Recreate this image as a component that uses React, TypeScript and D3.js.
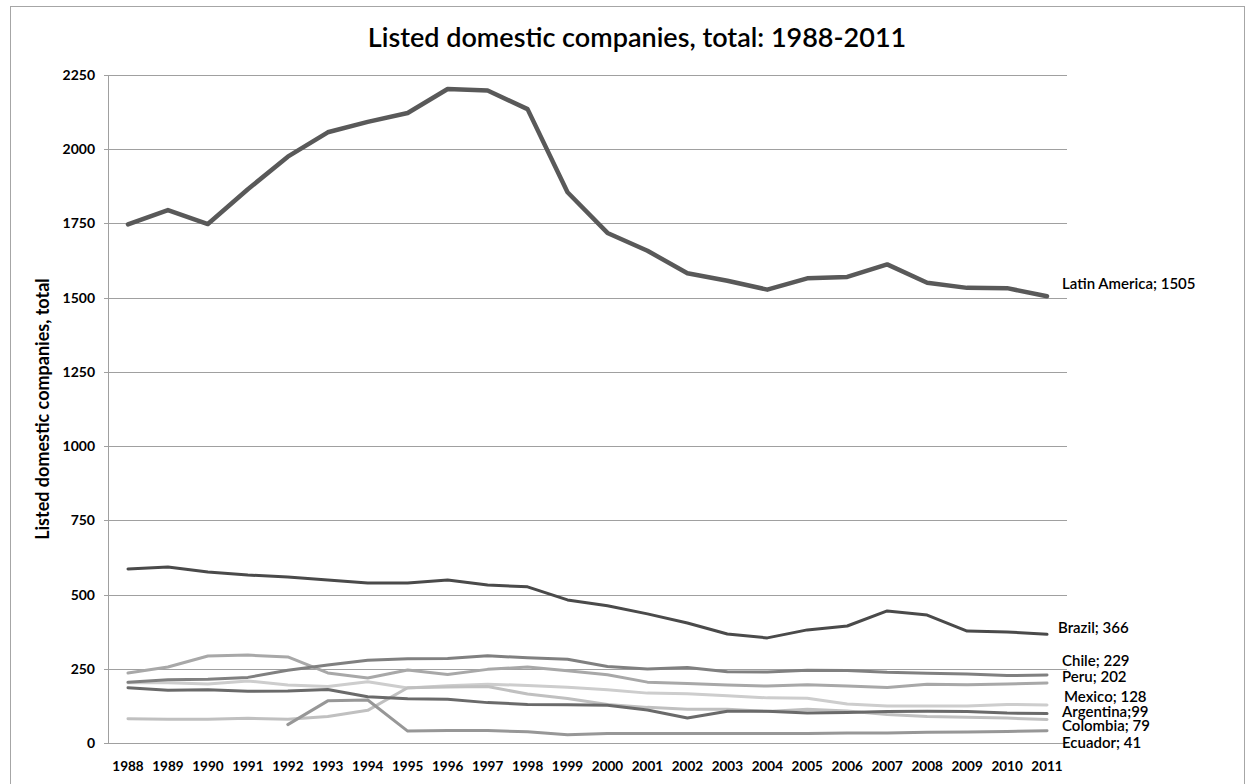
import React from "react";
import * as d3 from "d3";

const years = [1988,1989,1990,1991,1992,1993,1994,1995,1996,1997,1998,1999,2000,2001,2002,2003,2004,2005,2006,2007,2008,2009,2010,2011];

const latinAmerica = [1747,1795,1748,1865,1975,2057,2092,2122,2203,2198,2135,1855,1718,1658,1582,1557,1527,1565,1570,1612,1550,1533,1532,1505];
const brazil = [586,593,576,566,559,549,539,539,549,532,526,482,462,435,404,367,354,381,394,445,431,377,374,366];
const chile = [205,213,215,221,245,263,279,284,285,294,287,282,258,249,254,240,239,245,244,238,235,232,227,229];
const peru = [236,256,293,296,290,236,219,246,231,248,256,243,230,205,200,195,192,196,192,187,198,196,199,202];
const mexico = [203,203,199,209,195,190,206,185,193,198,194,188,179,168,166,159,152,151,131,125,125,125,130,128];
const argentina = [186,178,179,174,175,180,156,149,147,136,130,129,127,111,84,107,107,101,103,106,107,106,101,99];
const colombia = [82,80,80,83,80,89,110,186,189,190,165,150,130,120,114,114,106,114,108,96,89,87,84,79];
const ecuador = [null,null,null,null,62,142,145,40,42,42,38,28,32,32,32,32,32,32,34,34,36,37,39,41];

const yTicks = [0,250,500,750,1000,1250,1500,1750,2000,2250];

type S = { name: string; values: (number | null)[]; color: string; width: number; sep: string; dx: number; dy: number };

const series: S[] = [
  { name: "Mexico", values: mexico, color: "#cdcdcd", width: 3, sep: "; ", dx: 17, dy: -8 },
  { name: "Colombia", values: colombia, color: "#c0c0c0", width: 3, sep: "; ", dx: 15, dy: 6 },
  { name: "Peru", values: peru, color: "#a8a8a8", width: 3, sep: "; ", dx: 15, dy: -6 },
  { name: "Ecuador", values: ecuador, color: "#979797", width: 3, sep: "; ", dx: 15, dy: 12 },
  { name: "Chile", values: chile, color: "#808080", width: 3, sep: "; ", dx: 15, dy: -14 },
  { name: "Argentina", values: argentina, color: "#6a6a6a", width: 3, sep: ";", dx: 15, dy: -2 },
  { name: "Brazil", values: brazil, color: "#4a4a4a", width: 3, sep: "; ", dx: 11, dy: -6 },
  { name: "Latin America", values: latinAmerica, color: "#595959", width: 4.5, sep: "; ", dx: 15, dy: -12 },
];

const W = 1252, H = 784;
const left = 108, right = 1067, top = 75, bottom = 743;
const font = "Lato, 'Noto Sans', sans-serif";

export default function App() {
  const x = d3.scalePoint<number>().domain(years).range([left, right]).padding(0.5);
  const y = d3.scaleLinear().domain([0, 2250]).range([bottom, top]);
  const line = d3.line<number | null>()
    .defined((d) => d != null)
    .x((_, i) => x(years[i]) as number)
    .y((d) => y(d as number));

  return (
    <svg width={W} height={H} style={{ position: "absolute", left: 0, top: 0, background: "#fff" }} fontFamily={font}>
      <rect x={10.5} y={6.5} width={1234} height={800} fill="#fff" stroke="#a6a6a6" />
      <text x={637} y={47} textAnchor="middle" fontSize={27} fontWeight={600} fill="#000">
        Listed domestic companies, total: 1988-2011
      </text>
      {yTicks.map((t) => (
        <g key={t}>
          {t > 0 && <line x1={left} x2={right} y1={Math.round(y(t)) + 0.5} y2={Math.round(y(t)) + 0.5} stroke="#a0a0a0" />}
          <line x1={left - 4} x2={left} y1={Math.round(y(t)) + 0.5} y2={Math.round(y(t)) + 0.5} stroke="#a0a0a0" />
          <text x={95} y={y(t) + 5} textAnchor="end" fontSize={14} fontWeight={700} fill="#000">{t}</text>
        </g>
      ))}
      <line x1={left + 0.5} x2={left + 0.5} y1={top} y2={bottom} stroke="#a0a0a0" />
      <line x1={left} x2={right} y1={bottom + 0.5} y2={bottom + 0.5} stroke="#a0a0a0" />
      {years.map((yr) => (
        <text key={yr} x={x(yr)} y={771} textAnchor="middle" fontSize={13.5} fontWeight={700} fill="#000">{yr}</text>
      ))}
      <text transform={`translate(49,${(top + bottom) / 2}) rotate(-90)`} textAnchor="middle" fontSize={18} fontWeight={700} fill="#000">
        Listed domestic companies, total
      </text>
      {series.map((s) => (
        <path key={s.name} d={line(s.values) || ""} fill="none" stroke={s.color} strokeWidth={s.width} strokeLinejoin="round" strokeLinecap="round" />
      ))}
      {series.map((s) => {
        const last = s.values[s.values.length - 1] as number;
        return (
          <text key={s.name + "l"} x={(x(years[years.length - 1]) as number) + s.dx} y={y(last) + s.dy + 5} fontSize={15} fontWeight={600} fill="#000">
            {s.name}{s.sep}{last}
          </text>
        );
      })}
    </svg>
  );
}
